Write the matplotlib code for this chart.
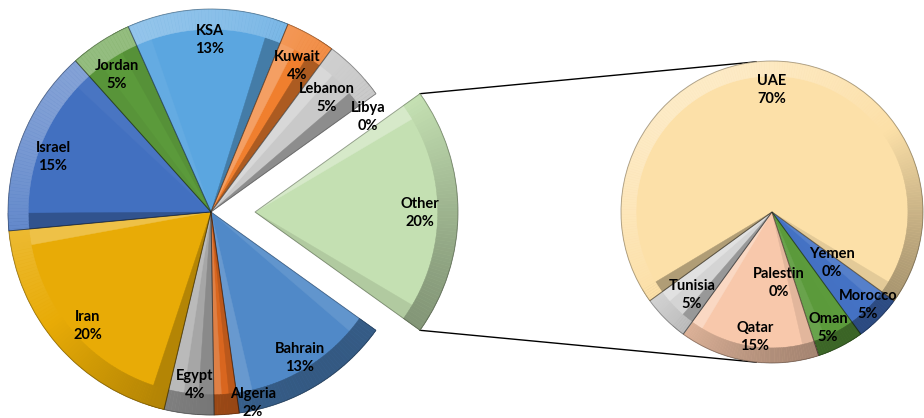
import numpy as np
import matplotlib.pyplot as plt
import matplotlib.colors as mcolors
from matplotlib.patches import Wedge

# main pie, clockwise from the lower edge of "Other"
main_labels = ['Bahrain', 'Algeria', 'Egypt', 'Iran', 'Israel', 'Jordan',
               'KSA', 'Kuwait', 'Lebanon', 'Libya', 'Other']
main_values = [13, 2, 4, 20, 15, 5, 13, 4, 5, 0, 20]
main_colors = ['#5089c8', '#d9661f', '#a6a6a6', '#e8ab06', '#4270c0', '#5b9a3b',
               '#5ba6e0', '#f07f2e', '#c9c9c9', '#e8ab06', '#c4e0b2']

# second pie (breakdown of "Other")
other_labels = ['Morocco', 'Oman', 'Palestin', 'Qatar', 'Tunisia', 'UAE', 'Yemen']
other_values = [5, 5, 0, 15, 5, 70, 0]
other_colors = ['#4472c4', '#5b9a3b', '#f8cbad', '#f8c8ab', '#d4d4d4', '#fce0a8', '#4472c4']

# label anchors (pixels, y from bottom)
main_pos = [(300, 60), (253, 15), (195, 33), (88, 92), (53, 261), (117, 343),
            (210, 378), (297, 352), (327, 320), (368, 301), (420, 205)]
other_pos = [(868, 113), (828, 90), (779, 135), (755, 81), (692, 123), (772, 328), (832, 155)]

W, H = 924, 418
plt.rcParams['font.family'] = ['Lato', 'DejaVu Sans']

fig = plt.figure(figsize=(W / 100, H / 100), dpi=100)
ax = fig.add_axes([0, 0, 1, 1])


def shade(c, f):
    rgb = np.array(mcolors.to_rgb(c))
    if f > 0:
        return tuple(rgb + (1 - rgb) * f)
    return tuple(rgb * (1 + f))


def bevel(wedges, colors):
    # bevel facets: light from the upper left
    for w, c in zip(wedges, colors):
        t1, t2 = w.theta1, w.theta2
        span = t2 - t1
        if span < 0.01:
            continue
        d = min(5.0, span / 3)
        # radial facets
        for a, b, nrm in ((t1, t1 + d, t1 - 90), (t2 - d, t2, t2 + 90)):
            col = shade(c, 0.3 * np.cos(np.radians(nrm - 125)))
            ax.add_patch(Wedge(w.center, w.r, a, b, fc=col, ec=col, lw=0.3, zorder=2))
        # rim along the arc
        for a in np.arange(t1, t2, 1.0):
            b = min(a + 1.0, t2)
            col = shade(c, 0.35 * np.cos(np.radians((a + b) / 2 - 125)))
            ax.add_patch(Wedge(w.center, w.r, a, b, width=w.r * 0.1,
                               fc=col, ec=col, lw=0.3, zorder=2.5))
        ax.add_patch(Wedge(w.center, w.r, t1, t2, fc='none',
                           ec=(0, 0, 0, 0.3), lw=0.7, zorder=3))


total = sum(main_values)
other_frac = main_values[-1] / total
r1 = 203
wedges1, _ = ax.pie(main_values, colors=main_colors, center=(211, 206), radius=r1,
                    startangle=-other_frac * 180, counterclock=False,
                    explode=[0] * (len(main_values) - 1) + [44],
                    wedgeprops=dict(linewidth=0), frame=True)
r2 = 151
wedges2, _ = ax.pie(other_values, colors=other_colors, center=(772, 206), radius=r2,
                    startangle=-36, counterclock=False,
                    wedgeprops=dict(linewidth=0), frame=True)
ax.set_xlim(0, W)
ax.set_ylim(0, H)
ax.set_aspect('equal')
ax.axis('off')

bevel(wedges1, main_colors)
bevel(wedges2, other_colors)

# connector lines from the "Other" slice to the second pie
ow = wedges1[-1]
cx, cy = ow.center
for ang_o, ang_p in ((ow.theta1, -96), (ow.theta2, 96)):
    x0 = cx + ow.r * np.cos(np.radians(ang_o))
    y0 = cy + ow.r * np.sin(np.radians(ang_o))
    x1 = 772 + r2 * np.cos(np.radians(ang_p))
    y1 = 206 + r2 * np.sin(np.radians(ang_p))
    ax.plot([x0, x1], [y0, y1], color='black', lw=1.0, zorder=1)

for lab, v, (x, y) in zip(main_labels, main_values, main_pos):
    ax.text(x, y, f'{lab}\n{v}%', ha='center', va='center', fontsize=10.5,
            fontweight='bold', color='black', linespacing=1.35, zorder=5)
for lab, v, (x, y) in zip(other_labels, other_values, other_pos):
    ax.text(x, y, f'{lab}\n{v}%', ha='center', va='center', fontsize=10.5,
            fontweight='bold', color='black', linespacing=1.35, zorder=5)

fig.savefig('out.png', dpi=100)
